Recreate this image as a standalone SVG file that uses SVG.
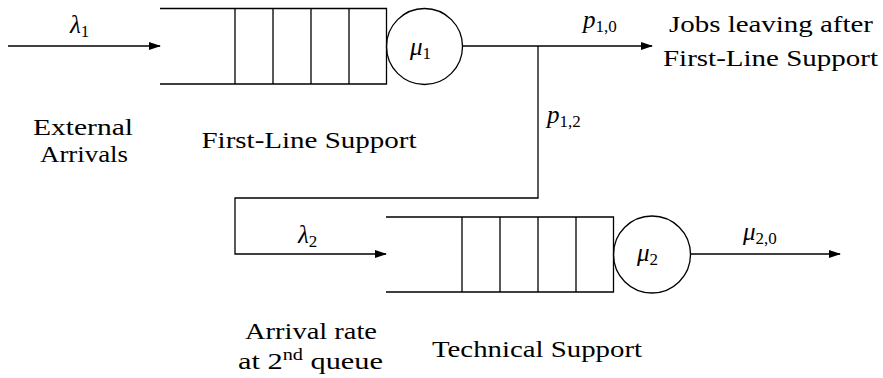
<svg xmlns="http://www.w3.org/2000/svg" width="883" height="378" viewBox="0 0 883 378">
<style>
.ln{stroke:#000;stroke-width:1.3;fill:none}
.t{font-family:'Liberation Serif',serif;font-size:24px;fill:#000;text-anchor:middle}
.m{font-family:'Liberation Serif',serif;font-size:25px;font-style:italic;fill:#000}
.s{font-style:normal;font-size:17px}
</style>
<defs>
<marker id="ah" markerWidth="12" markerHeight="8" refX="11" refY="4" orient="auto" markerUnits="userSpaceOnUse">
<path d="M0,0 L12,4 L0,8 Z" fill="#000"/>
</marker>
</defs>
<rect width="883" height="378" fill="#fff"/>
<g id="queue1">
<path class="ln" d="M160,8.5 H386.5 V84 H160 M235,8.5 V84 M273,8.5 V84 M311,8.5 V84 M349,8.5 V84"/>
<circle class="ln" cx="424.5" cy="46.5" r="38"/>
<text class="m" x="410" y="55">&#956;<tspan class="s" dy="4">1</tspan></text>
<text class="t" x="309" y="148" textLength="215" lengthAdjust="spacingAndGlyphs">First-Line Support</text>
</g>
<g id="queue2">
<path class="ln" d="M386,217 H613.5 V292 H386 M462,217 V292 M500,217 V292 M538,217 V292 M576,217 V292"/>
<circle class="ln" cx="652" cy="254.5" r="38.5"/>
<text class="m" x="637" y="261">&#956;<tspan class="s" dy="4">2</tspan></text>
<text class="t" x="537" y="357" textLength="210" lengthAdjust="spacingAndGlyphs">Technical Support</text>
</g>
<g id="external">
<text class="t" x="83" y="135" textLength="100" lengthAdjust="spacingAndGlyphs">External</text>
<text class="t" x="84" y="162" textLength="88" lengthAdjust="spacingAndGlyphs">Arrivals</text>
</g>
<g id="leaving">
<text class="t" x="771" y="32" textLength="204" lengthAdjust="spacingAndGlyphs">Jobs leaving after</text>
<text class="t" x="770.5" y="66" textLength="215" lengthAdjust="spacingAndGlyphs">First-Line Support</text>
</g>
<g id="arrival2">
<text class="t" x="311" y="339" textLength="132" lengthAdjust="spacingAndGlyphs">Arrival rate</text>
<text class="t" x="310.5" y="369" textLength="145" lengthAdjust="spacingAndGlyphs">at 2<tspan font-size="16" dy="-9">nd</tspan><tspan dy="9"> queue</tspan></text>
</g>
<g id="connectors">
<path class="ln" d="M8,46 H160" marker-end="url(#ah)"/>
<path class="ln" d="M463,46 H652" marker-end="url(#ah)"/>
<path class="ln" d="M538,46 V198 H235 V254 H386" marker-end="url(#ah)"/>
<path class="ln" d="M690.5,254 H840" marker-end="url(#ah)"/>
<text class="m" x="70" y="33">&#955;<tspan class="s" dy="4">1</tspan></text>
<text class="m" x="583" y="28">p<tspan class="s" dy="4">1,0</tspan></text>
<text class="m" x="547" y="123">p<tspan class="s" dy="4">1,2</tspan></text>
<text class="m" x="298" y="243">&#955;<tspan class="s" dy="4">2</tspan></text>
<text class="m" x="743" y="240">&#956;<tspan class="s" dy="4">2,0</tspan></text>
</g>
</svg>
